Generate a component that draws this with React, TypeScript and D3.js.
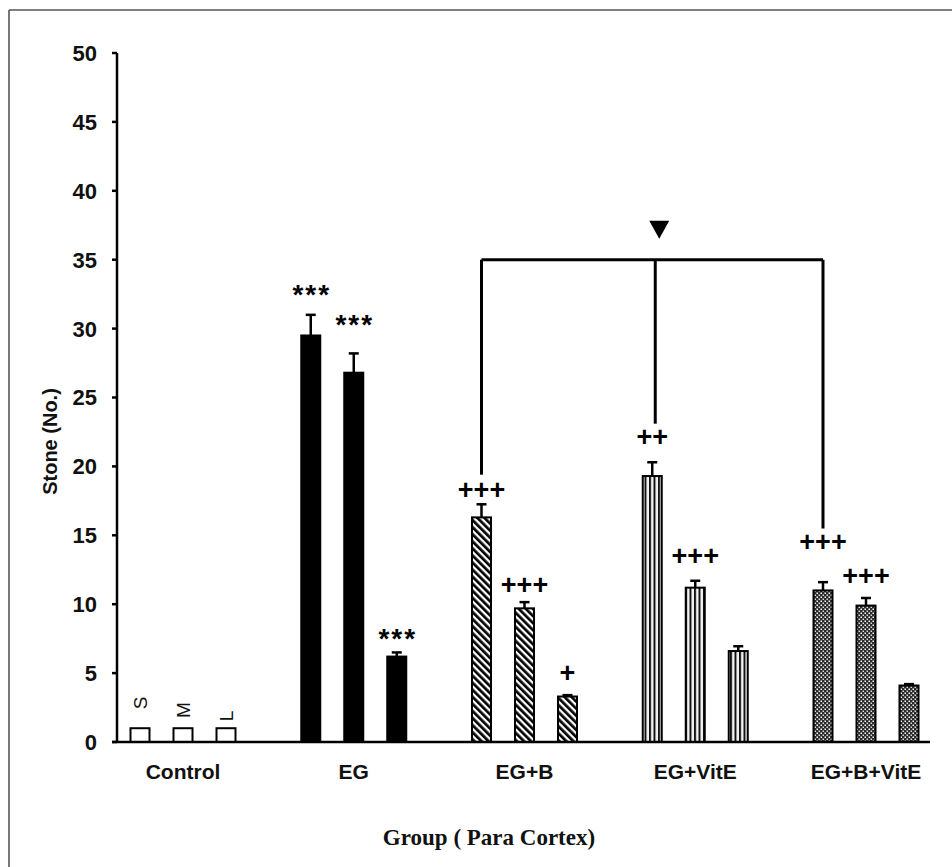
import React from "react";
import * as d3 from "d3";

const groups = ["Control", "EG", "EG+B", "EG+VitE", "EG+B+VitE"];
const sizes = ["S", "M", "L"];
const sValues = [1, 29.5, 16.3, 19.3, 11.0];
const mValues = [1, 26.8, 9.7, 11.2, 9.9];
const lValues = [1, 6.2, 3.3, 6.6, 4.1];
const sErrors = [0, 1.5, 0.95, 1.0, 0.6];
const mErrors = [0, 1.4, 0.45, 0.5, 0.55];
const lErrors = [0, 0.3, 0.1, 0.35, 0.1];
const yTicks = [0, 5, 10, 15, 20, 25, 30, 35, 40, 45, 50];

// significance marks: group, size, label, vertical centre in data units
const marks = [
  { group: "EG", size: "S", label: "***", y: 32.95 },
  { group: "EG", size: "M", label: "***", y: 30.77 },
  { group: "EG", size: "L", label: "***", y: 7.98 },
  { group: "EG+B", size: "S", label: "+++", y: 18.3 },
  { group: "EG+B", size: "M", label: "+++", y: 11.4 },
  { group: "EG+B", size: "L", label: "+", y: 5.0 },
  { group: "EG+VitE", size: "S", label: "++", y: 22.1 },
  { group: "EG+VitE", size: "M", label: "+++", y: 13.5 },
  { group: "EG+B+VitE", size: "S", label: "+++", y: 14.5 },
  { group: "EG+B+VitE", size: "M", label: "+++", y: 12.05 },
];
// control size labels (centre in data units)
const sizeLabelY = [2.83, 2.32, 1.89];

// comparison bracket
const bracketLevel = 35;
const bracketLegs = [
  { group: "EG+B", to: 19.4 },
  { group: "EG+VitE", to: 23.1 },
  { group: "EG+B+VitE", to: 15.5 },
];

const fills = ["#fff", "#000", "url(#diag)", "url(#vert)", "url(#dots)"];

export default function App() {
  const W = 952;
  const H = 867;
  const plotLeft = 117;
  const plotRight = 930;
  const y = d3.scaleLinear().domain([0, 50]).range([742, 53]);
  const xg = d3.scalePoint<string>().domain(groups).range([183, 866]);
  const xs = d3.scalePoint<string>().domain(sizes).range([-43, 43]);
  const barW = 19;

  const series = [
    { size: "S", values: sValues, errors: sErrors },
    { size: "M", values: mValues, errors: mErrors },
    { size: "L", values: lValues, errors: lErrors },
  ];

  const cx = (g: string, s: string) => (xg(g) as number) + (xs(s) as number);
  const font = "'Liberation Sans', Arial, sans-serif";

  return (
    <svg
      width={W}
      height={H}
      style={{ position: "absolute", left: 0, top: 0, background: "#fff" }}
    >
      <defs>
        <pattern id="diag" width={5} height={5} patternUnits="userSpaceOnUse" patternTransform="rotate(-45)">
          <rect width={5} height={5} fill="#fff" />
          <rect width={2.7} height={5} fill="#000" />
        </pattern>
        <pattern id="vert" width={4.5} height={5} patternUnits="userSpaceOnUse" x={1}>
          <rect width={4.5} height={5} fill="#f4f4f4" />
          <rect width={2} height={5} fill="#111" />
        </pattern>
        <pattern id="dots" width={4} height={4} patternUnits="userSpaceOnUse">
          <rect width={4} height={4} fill="#2a2a2a" />
          <rect x={0.5} y={0.5} width={1.5} height={1.5} fill="#fff" />
          <rect x={2.5} y={2.5} width={1.5} height={1.5} fill="#ddd" />
        </pattern>
      </defs>

      {/* frame */}
      <line x1={9} y1={10} x2={W} y2={10} stroke="#555" strokeWidth={1.6} />
      <line x1={9} y1={10} x2={9} y2={H} stroke="#555" strokeWidth={1.6} />

      {/* y axis */}
      <line x1={plotLeft} y1={y(50)} x2={plotLeft} y2={y(0)} stroke="#000" strokeWidth={2.5} />
      {yTicks.map((t) => (
        <g key={t}>
          <line x1={plotLeft - 5} x2={plotLeft} y1={y(t)} y2={y(t)} stroke="#000" strokeWidth={2.5} />
          <text
            x={plotLeft - 20}
            y={y(t)}
            dy="0.36em"
            textAnchor="end"
            fontFamily={font}
            fontWeight="bold"
            fontSize={22}
            fill="#111"
          >
            {t}
          </text>
        </g>
      ))}
      <text
        transform={`translate(57,${(y(0) + y(50)) / 2 + 44}) rotate(-90)`}
        textAnchor="middle"
        fontFamily={font}
        fontWeight="bold"
        fontSize={20}
        fill="#111"
      >
        Stone (No.)
      </text>

      {/* bars */}
      {series.map((se) =>
        groups.map((g, i) => {
          const v = se.values[i];
          const e = se.errors[i];
          const x0 = cx(g, se.size);
          return (
            <g key={g + se.size}>
              <rect
                x={x0 - barW / 2}
                y={y(v)}
                width={barW}
                height={y(0) - y(v)}
                fill={fills[i]}
                stroke="#000"
                strokeWidth={2}
              />
              {e > 0 && (
                <g stroke="#000" strokeWidth={2.5}>
                  <line x1={x0} x2={x0} y1={y(v)} y2={y(v + e)} />
                  <line x1={x0 - 5} x2={x0 + 5} y1={y(v + e)} y2={y(v + e)} />
                </g>
              )}
            </g>
          );
        })
      )}

      {/* x axis */}
      <line x1={plotLeft - 5} x2={plotRight} y1={y(0)} y2={y(0)} stroke="#000" strokeWidth={2.5} />
      {groups.map((g) => (
        <text
          key={g}
          x={xg(g)}
          y={779}
          textAnchor="middle"
          fontFamily={font}
          fontWeight="bold"
          fontSize={21}
          fill="#111"
        >
          {g}
        </text>
      ))}
      <text
        x={489}
        y={845}
        textAnchor="middle"
        fontFamily="'Liberation Serif', 'Times New Roman', serif"
        fontWeight="bold"
        fontSize={23}
        fill="#111"
      >
        Group ( Para Cortex)
      </text>

      {/* control size labels */}
      {sizes.map((s, i) => (
        <text
          key={s}
          transform={`translate(${cx("Control", s) + 7},${y(sizeLabelY[i])}) rotate(-90)`}
          textAnchor="middle"
          fontFamily={font}
          fontSize={19}
          fill="#111"
        >
          {s}
        </text>
      ))}

      {/* significance marks */}
      {marks.map((m, i) => {
        const star = m.label.includes("*");
        return (
          <text
            key={i}
            x={cx(m.group, m.size) + (star ? 1 : 0)}
            y={y(m.y)}
            dy={star ? "0.56em" : "0.33em"}
            textAnchor="middle"
            fontFamily={font}
            fontWeight="bold"
            fontSize={star ? 28 : 27}
            letterSpacing={star ? 2 : 0}
            fill="#000"
          >
            {m.label}
          </text>
        );
      })}

      {/* bracket */}
      <g stroke="#000" strokeWidth={3} fill="none">
        <line
          x1={cx(bracketLegs[0].group, "S")}
          x2={cx(bracketLegs[bracketLegs.length - 1].group, "S")}
          y1={y(bracketLevel)}
          y2={y(bracketLevel)}
        />
        {bracketLegs.map((l) => (
          <line
            key={l.group}
            x1={cx(l.group, "S") + (l.group === "EG+VitE" ? 3 : 0)}
            x2={cx(l.group, "S") + (l.group === "EG+VitE" ? 3 : 0)}
            y1={y(bracketLevel)}
            y2={y(l.to)}
          />
        ))}
      </g>
      <path
        d={(() => {
          const tx = cx("EG+VitE", "S") + 7;
          const ty = y(bracketLevel) - 39;
          return `M${tx - 10},${ty} L${tx + 10},${ty} L${tx},${ty + 18} Z`;
        })()}
        fill="#000"
      />
    </svg>
  );
}
